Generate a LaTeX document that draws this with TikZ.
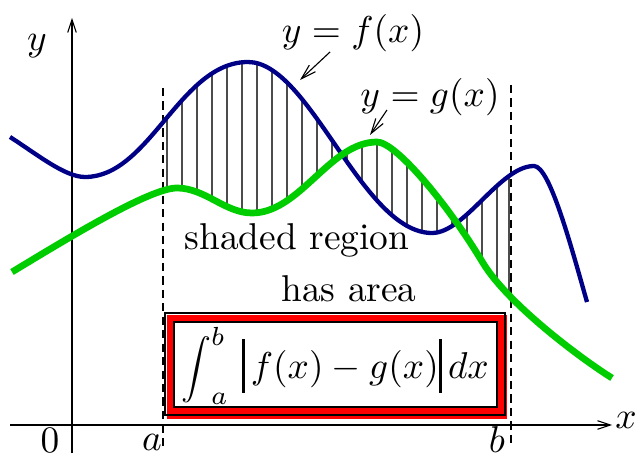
\documentclass[tikz,border=0pt]{standalone}
\usepackage{amsmath}
\usepackage{amssymb}
\usepackage{graphicx}
\usetikzlibrary{arrows.meta}
\definecolor{fblue}{RGB}{0,0,135}
\definecolor{ggreen}{RGB}{0,205,0}
\newcommand\fpath{(10,137) .. controls (38,155) and (65,177) .. (85,177)
  .. controls (150,177) and (180,62) .. (248,62)
  .. controls (310,62) and (362,233) .. (432,233)
  .. controls (465,233) and (500,166) .. (534,166)
  .. controls (550,166) and (572,250) .. (587,302)}
\newcommand\gpath{(12,272) .. controls (70,237) and (150,188) .. (177,188)
  .. controls (205,188) and (225,213) .. (252,213)
  .. controls (300,213) and (330,142) .. (377,142)
  .. controls (395,142) and (445,200) .. (483,263)
  .. controls (508,304) and (580,358) .. (612,378)}
\newcommand\absbar{\rule[-3.7pt]{0.8pt}{14.4pt}}
\begin{document}
\begin{tikzpicture}[x=0.2676pt,y=-0.2676pt,
    hatch/.style={gray!60!black,line width=0.3pt},
    bound/.style={line width=0.3pt,dash pattern=on 2.2pt off 1.4pt},
    axis/.style={line width=0.3pt,-{Straight Barb[length=3.4pt,width=2.3pt]}},
    lblarrow/.style={line width=0.3pt,-{Straight Barb[length=4pt,width=2.4pt]}}]
       \useasboundingbox (0,0) rectangle (639,457);
       % hatching between the two curves
       \begin{scope}[even odd rule]
         \clip (163,0) rectangle (511,457);
         \clip \fpath -- (639,457) -- (0,457) -- cycle
               \gpath -- (639,457) -- (0,457) -- cycle;
         \foreach \x in {167,182,...,497,509}
           \draw[hatch] (\x,0) -- (\x,457);
       \end{scope}
       % axes
       \draw[axis] (10,425) -- (612,425);
       \draw[axis] (72,453) -- (72,18);
       \node[inner sep=0] (xlab) at (626,420) {$x$};
       \node (ylab) at (37,46) {$y$};
       \node (orig) at (50,440) {$0$};
       \draw[bound] (163,88) -- (163,447);
       \draw[bound] (511,85) -- (511,447);
       \node (alab) at (152,442) {$a$};
       \node (blab) at (497,440) {$b$};
       % the curves
       \draw[fblue,line width=1.15pt] \fpath;
       \draw[ggreen,line width=1.8pt] \gpath;
       \node (flab) at (353,33) {$y=f(x)$};
       \node (glab) at (430,97) {$y=g(x)$};
       \coordinate (fstart) at (330,52);
       \coordinate (ftip) at (300,80);
       \coordinate (gstart) at (387,110);
       \coordinate (gtip) at (370,135);
       \draw[lblarrow] (fstart) -- (ftip);
       \draw[lblarrow] (gstart) -- (gtip);
       \node (shtxt) at (297,240) {shaded region};
       \node (artxt) at (349,289) {has area};
       % framed integral
       \fill[red] (167,315) rectangle (507,419);
       \draw[line width=0.4pt] (165,313) rectangle (505,415);
       \filldraw[fill=white,line width=0.6pt] (174,322) rectangle (497,407);
       \node (intg) at (335,366) {$\mathop{\vcenter{\hbox{\scalebox{0.8}{$\displaystyle\int$}}}}\nolimits_a^b \,\absbar\, f(x)-g(x)\absbar\, dx$};
     \end{tikzpicture}
\end{document}
